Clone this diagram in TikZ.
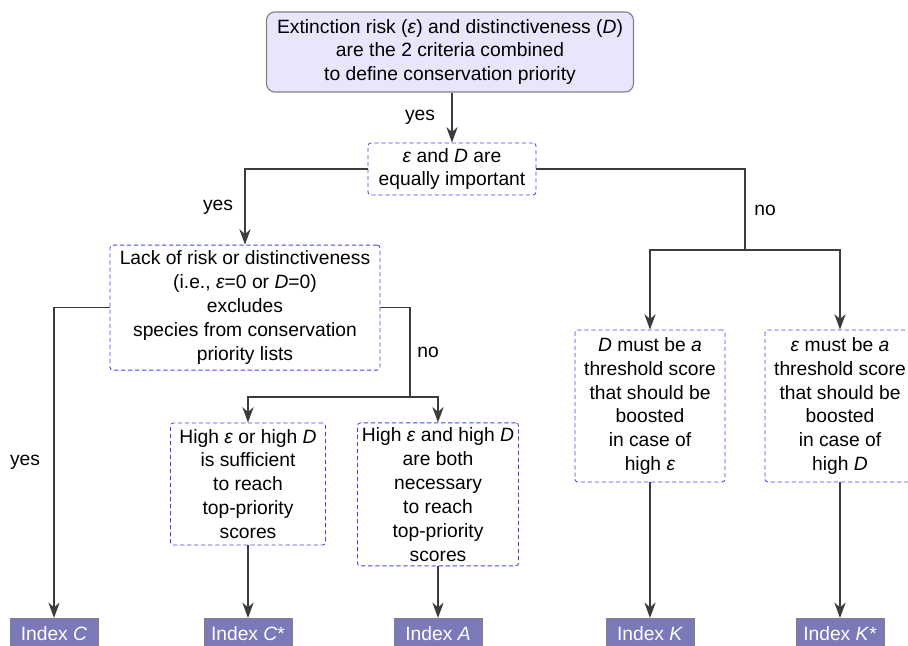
\documentclass[tikz,border=0pt]{standalone}
\usepackage{fontspec}
\setmainfont{Liberation Sans}
\usepackage{xcolor}
\usetikzlibrary{arrows.meta}
\definecolor{toplav}{RGB}{232,230,250}
\definecolor{qblue}{RGB}{70,70,230}
\definecolor{idxfill}{RGB}{124,121,184}
\definecolor{linegray}{RGB}{60,60,60}
\newcommand{\eps}{\textit{ε}}
\newcommand{\DD}{\textit{D}}

\begin{document}
\begin{tikzpicture}[
    every node/.style={font=\fontsize{13.7pt}{17pt}\selectfont},
    topbox/.style={draw=gray, fill=toplav, rounded corners=6pt, line width=0.8pt, align=center, minimum width=9.175cm, minimum height=2cm},
    qbox/.style={draw=qblue, densely dashed, line width=0.6pt, fill=white, rounded corners=2pt, align=center, inner sep=2pt},
    idxbox/.style={draw=gray, fill=idxfill, text=white, minimum width=2.2cm, minimum height=0.75cm, anchor=north, inner sep=1pt},
    link/.style={draw=linegray, line width=1pt},
    arr/.style={link, -{Stealth[length=11pt,width=8pt,inset=3.5pt]}}
]
    \clip (0,0) rectangle (22.7,16.15);
    \useasboundingbox (0,0) rectangle (22.7,16.15);

    \node[topbox] (crit) at (11.25,14.85) {Extinction risk (\eps) and distinctiveness (\DD)\\ are the 2 criteria combined\\ to define conservation priority};
    \node[qbox, minimum width=4.2cm, minimum height=1.3cm] (equal) at (11.3,11.925) {\eps{} and \DD{} are\\ equally important};
    \node[qbox, minimum width=6.75cm, minimum height=3.125cm] (lack) at (6.125,8.46) {Lack of risk or distinctiveness\\ (i.e., \eps=0 or \DD=0)\\ excludes\\ species from conservation\\ priority lists};
    \node[qbox, minimum width=3.875cm, minimum height=3.05cm] (orhigh) at (6.2,4.05) {High \eps{} or high \DD\\ is sufficient\\ to reach\\ top-priority\\ scores};
    \node[qbox, minimum width=4.025cm, minimum height=3.575cm] (andhigh) at (10.95,3.79) {High \eps{} and high \DD\\ are both\\ necessary\\ to reach\\ top-priority\\ scores};
    \node[qbox, minimum width=3.75cm, minimum height=3.8cm] (dthresh) at (16.25,6.0) {\DD{} must be \textit{a}\\ threshold score\\ that should be\\ boosted\\ in case of\\ high \eps};
    \node[qbox, minimum width=3.75cm, minimum height=3.8cm] (ethresh) at (21.0,6.0) {\eps{} must be \textit{a}\\ threshold score\\ that should be\\ boosted\\ in case of\\ high \DD};

    \node[idxbox] (idxC) at (1.35,0.7) {Index \textit{C}};
    \node[idxbox] (idxCs) at (6.2,0.7) {Index \textit{C}*};
    \node[idxbox] (idxA) at (10.95,0.7) {Index \textit{A}};
    \node[idxbox] (idxK) at (16.25,0.7) {Index \textit{K}};
    \node[idxbox] (idxKs) at (21.0,0.7) {Index \textit{K}*};

    \coordinate (splitno) at (18.625,9.9);
    \coordinate (splitlack) at (10.25,6.225);

    % top and first question
    \draw[arr] (crit.south -| equal.north) -- (equal.north);
    \draw[arr] (equal.west) -| (lack.north);
    \draw[link] (equal.east) -| (splitno);
    \draw[arr] (splitno) -| (dthresh.north);
    \draw[arr] (splitno) -| (ethresh.north);

    % lack of risk
    \draw[arr] (lack.west) -| (idxC.north);
    \draw[link] (lack.east) -| (splitlack);
    \draw[arr] (splitlack) -| (orhigh.north);
    \draw[arr] (splitlack) -| (andhigh.north);

    % down to the indices
    \draw[arr] (orhigh.south) -- (idxCs.north);
    \draw[arr] (andhigh.south) -- (idxA.north);
    \draw[arr] (dthresh.south) -- (idxK.north);
    \draw[arr] (ethresh.south) -- (idxKs.north);

    % labels
    \node (yes1) at (10.5,13.225) {yes};
    \node (yes2) at (5.45,10.975) {yes};
    \node (no1) at (19.125,10.9) {no};
    \node (yes3) at (0.625,4.6) {yes};
    \node (no2) at (10.7,7.35) {no};
\end{tikzpicture}
\end{document}
